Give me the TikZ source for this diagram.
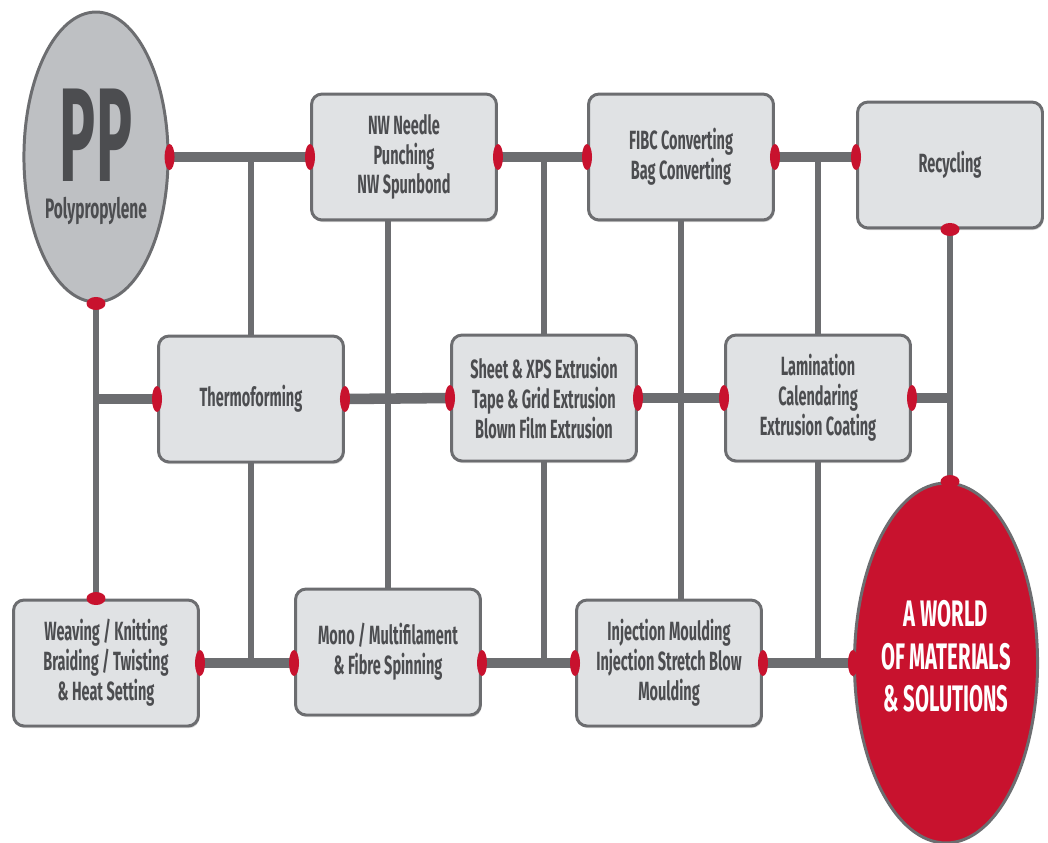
\documentclass[tikz,border=0pt]{standalone}
\usepackage{fontspec}
\setmainfont{Fira Sans}[FakeStretch=0.55]
\newfontfamily\ppfont{Fira Sans}[FakeStretch=0.45]
\usepackage{tikz}
\usetikzlibrary{shapes.geometric, shadows, positioning}
\definecolor{ppred}{RGB}{200, 18, 46}
\definecolor{ppline}{RGB}{108, 109, 112}
\definecolor{ppbox}{RGB}{224, 226, 228}
\definecolor{ppdisc}{RGB}{190, 192, 195}
\definecolor{pptext}{RGB}{76, 77, 80}

\begin{document}
\begin{tikzpicture}[x=0.02cm, y=-0.02cm,
  procbox/.style={draw=ppline, line width=1.7pt, fill=ppbox, rounded corners=6pt,
    minimum width=3.7cm, minimum height=2.52cm, align=center, text=pptext,
    font=\fontsize{15}{17}\selectfont\bfseries, inner sep=2pt,
    drop shadow={shadow xshift=.6pt, shadow yshift=-1.2pt, opacity=.35}},
  disc/.style={ellipse, draw=ppline, line width=1.7pt, inner sep=0pt, align=center},
  thickline/.style={draw=ppline, line width=6pt},
  thinline/.style={draw=ppline, line width=3.2pt}]
  \useasboundingbox (0,0) rectangle (1048,842);

  \node[disc, fill=ppdisc, text=pptext, minimum width=2.88cm, minimum height=5.8cm]
    (pp) at (96,157) {{\ppfont\bfseries\fontsize{76}{76}\selectfont PP}\\[8pt]
      {\bfseries\fontsize{16}{16}\selectfont Polypropylene}};
  \node[procbox] (nw) at (404,157) {NW Needle\\Punching\\NW Spunbond};
  \node[procbox] (fibc) at (681,157) {FIBC Converting\\Bag Converting};
  \node[procbox] (rec) at (950,165) {Recycling};
  \node[procbox] (thermo) at (251,399) {Thermoforming};
  \node[procbox] (sheet) at (544,398) {Sheet \& XPS Extrusion\\Tape \& Grid Extrusion\\Blown Film Extrusion};
  \node[procbox] (lam) at (818,398) {Lamination\\Calendaring\\Extrusion Coating};
  \node[procbox] (wv) at (106,663) {Weaving / Knitting\\Braiding / Twisting\\\& Heat Setting};
  \node[procbox] (mono) at (388,652) {Mono / Multifilament\\\& Fibre Spinning};
  \node[procbox] (inj) at (669,663) {Injection Moulding\\Injection Stretch Blow\\Moulding};
  \node[disc, fill=ppred, text=white, minimum width=3.52cm, minimum height=7.2cm,
    font=\fontsize{21}{24}\selectfont\bfseries]
    (world) at (946,663) {A WORLD\\OF MATERIALS\\\& SOLUTIONS\\[-16pt]};

  % junctions on the lines
  \coordinate (recin) at (rec.west |- fibc.east);
  \coordinate (midL) at (pp.south |- thermo.west);
  \coordinate (midR) at (rec.south |- lam.east);
  \coordinate (monoin) at (mono.west |- wv.east);
  \coordinate (monoout) at (mono.east |- wv.east);
  \coordinate (wvtop) at (pp.south |- wv.north);
  \coordinate (worldtop) at (rec.south |- world.north);

  % rows
  \draw[thickline] (pp.east) -- (nw.west);
  \draw[thickline] (nw.east) -- (fibc.west);
  \draw[thickline] (fibc.east) -- (recin);
  \draw[thickline] (midL) -- (thermo.west);
  \draw[thickline] (thermo.east) -- (sheet.west);
  \draw[thickline] (sheet.east) -- (lam.west);
  \draw[thickline] (lam.east) -- (midR);
  \draw[thickline] (wv.east) -- (monoin);
  \draw[thickline] (monoout) -- (inj.west);
  \draw[thickline] (inj.east) -- (world.west);

  % columns
  \draw[thinline] (pp.south) -- (wvtop);
  \draw[thinline] (thermo.north) -- (thermo.north |- nw.west);
  \draw[thinline] (thermo.south) -- (thermo.south |- wv.east);
  \draw[thinline] (nw.south -| mono.north) -- (mono.north);
  \draw[thinline] (sheet.north) -- (sheet.north |- fibc.west);
  \draw[thinline] (sheet.south) -- (sheet.south |- inj.west);
  \draw[thinline] (fibc.south) -- (fibc.south |- inj.north);
  \draw[thinline] (lam.north) -- (lam.north |- fibc.east);
  \draw[thinline] (lam.south) -- (lam.south |- inj.east);
  \draw[thinline] (rec.south) -- (worldtop);

  % red plugs
  \foreach \p in {pp.east, nw.west, nw.east, fibc.west, fibc.east, recin,
      thermo.west, thermo.east, sheet.west, sheet.east, lam.west, lam.east,
      wv.east, monoin, monoout, inj.west, inj.east, world.west}
    \fill[ppred] (\p) ellipse [x radius=0.1cm, y radius=0.26cm];
  \foreach \p in {pp.south, wvtop, rec.south, worldtop}
    \fill[ppred] (\p) ellipse [x radius=0.19cm, y radius=0.13cm];
\end{tikzpicture}
\end{document}
